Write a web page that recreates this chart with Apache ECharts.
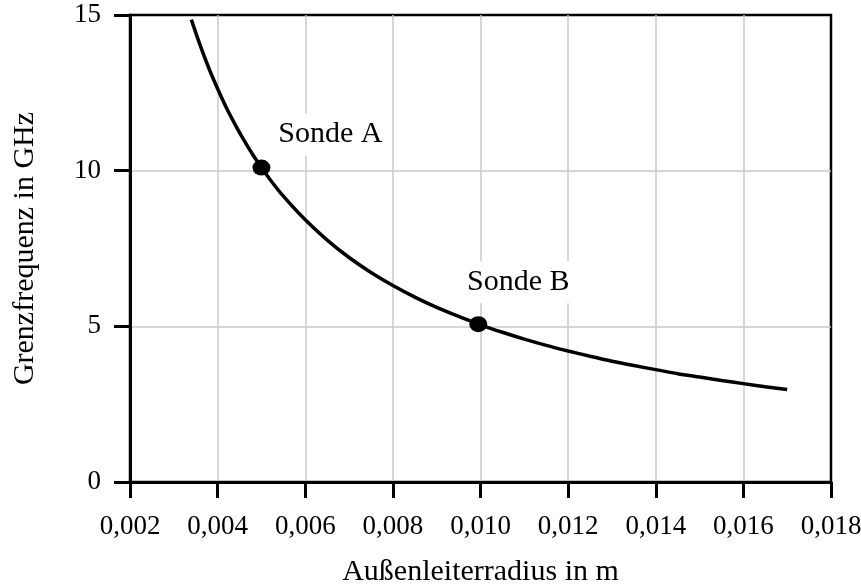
<!DOCTYPE html>
<html>
<head>
<meta charset="utf-8">
<script src="https://cdn.jsdelivr.net/npm/echarts@6/dist/echarts.min.js"></script>
<style>
  html, body { margin: 0; padding: 0; background: #fff; }
  #chart { width: 861px; height: 586px; }
</style>
</head>
<body>
<div id="chart"></div>
<script>
// Outer conductor radius (m) and cutoff frequency (GHz) along the curve
const radius = [0.0034, 0.0036, 0.0038, 0.004, 0.0042, 0.0044, 0.0046, 0.0048, 0.005, 0.0052, 0.0055,
  0.006, 0.0065, 0.007, 0.0075, 0.008, 0.0085, 0.009, 0.0095, 0.010, 0.0105, 0.011, 0.0115, 0.012,
  0.0125, 0.013, 0.0135, 0.014, 0.0145, 0.015, 0.0155, 0.016, 0.0165, 0.017];
const cutoff = [14.85, 14.03, 13.29, 12.63, 12.02, 11.48, 10.98, 10.52, 10.1, 9.71, 9.18,
  8.42, 7.77, 7.21, 6.73, 6.31, 5.94, 5.61, 5.32, 5.05, 4.81, 4.59, 4.39, 4.21,
  4.04, 3.88, 3.74, 3.61, 3.48, 3.37, 3.26, 3.16, 3.06, 2.97];

// Marked probes
const probeNames = ['Sonde A', 'Sonde B'];
const probeRadius = [0.005, 0.00995];
const probeCutoff = [10.1, 5.07];

const serif = '"Liberation Serif", "Times New Roman", serif';

const chart = echarts.init(document.getElementById('chart'), null, { renderer: 'canvas' });

const curve = radius.map((r, i) => [r, cutoff[i]]);
const probeOffsets = [[69, -33], [40, -42]];
const probes = probeNames.map((n, i) => ({
  name: n,
  value: [probeRadius[i], probeCutoff[i]],
  label: {
    show: true,
    formatter: n,
    position: 'inside',
    offset: probeOffsets[i],
    color: '#000',
    fontFamily: serif,
    fontSize: 30,
    backgroundColor: '#fff',
    padding: [6, 6]
  }
}));

const gridLine = { show: true, showMinLine: false, showMaxLine: false, lineStyle: { color: '#c8c8c8', width: 1.5 } };

chart.setOption({
  animation: false,
  backgroundColor: '#fff',
  grid: {
    left: 130, right: 30, top: 15, bottom: 104,
    outerBoundsMode: 'none',
    containLabel: false,
    show: true, borderColor: '#000', borderWidth: 2.5, backgroundColor: 'transparent'
  },
  xAxis: {
    type: 'value',
    min: 0.002, max: 0.018, interval: 0.002,
    name: 'Außenleiterradius in m',
    nameLocation: 'middle',
    nameGap: 75,
    nameTextStyle: { fontFamily: serif, fontSize: 30, color: '#000' },
    axisLine: { show: true, lineStyle: { color: '#000', width: 3 } },
    axisTick: { show: true, inside: false, length: 16, lineStyle: { color: '#000', width: 3 } },
    axisLabel: {
      margin: 31, fontFamily: serif, fontSize: 27, color: '#000',
      formatter: v => v.toFixed(3).replace('.', ',')
    },
    splitLine: gridLine
  },
  yAxis: {
    type: 'value',
    min: 0, max: 15, interval: 5,
    name: 'Grenzfrequenz in GHz',
    nameLocation: 'middle',
    nameGap: 90,
    nameTextStyle: { fontFamily: serif, fontSize: 30, color: '#000' },
    axisLine: { show: true, lineStyle: { color: '#000', width: 3 } },
    axisTick: { show: true, inside: false, length: 16, lineStyle: { color: '#000', width: 3 } },
    axisLabel: { margin: 29, fontFamily: serif, fontSize: 27, color: '#000' },
    splitLine: gridLine
  },
  series: [
    {
      type: 'line',
      data: curve,
      smooth: 0.3,
      showSymbol: false,
      lineStyle: { color: '#000', width: 3.5 },
      z: 3
    },
    {
      type: 'scatter',
      data: probes,
      symbol: 'circle',
      symbolSize: [18, 16],
      itemStyle: { color: '#000', opacity: 1 },
      z: 4
    }
  ]
});
</script>
</body>
</html>
